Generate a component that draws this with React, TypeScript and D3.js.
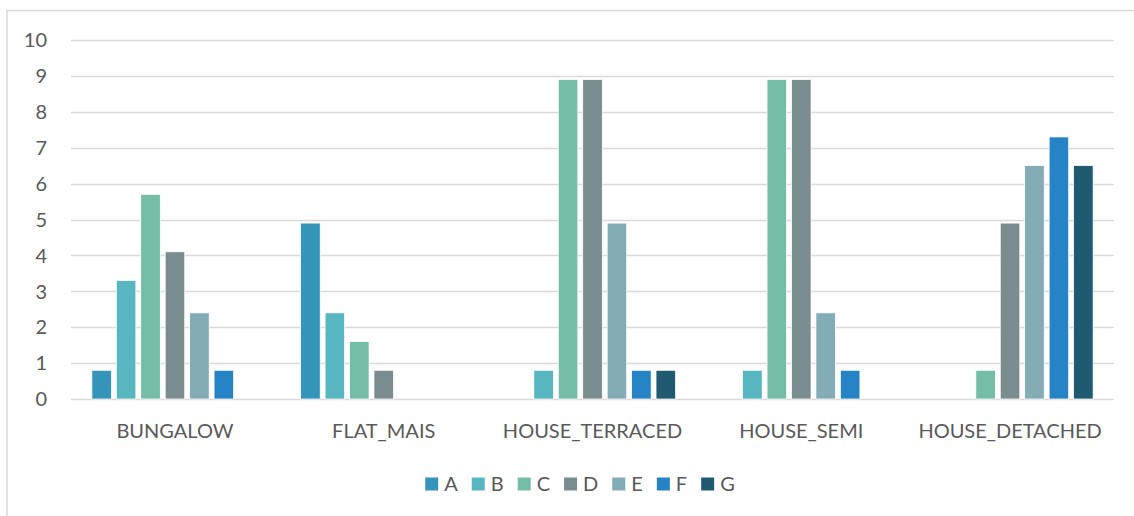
import React, { useEffect, useRef } from "react";
import * as d3 from "d3";

const categories = ["BUNGALOW", "FLAT_MAIS", "HOUSE_TERRACED", "HOUSE_SEMI", "HOUSE_DETACHED"];
const seriesNames = ["A", "B", "C", "D", "E", "F", "G"];
const seriesColors = ["#3494ba", "#58b6c0", "#75bda7", "#7a8c8e", "#84acb6", "#2683c6", "#1f5a70"];
// one array per series, one value per category
const valuesA = [0.8, 4.9, 0, 0, 0];
const valuesB = [3.3, 2.4, 0.8, 0.8, 0];
const valuesC = [5.7, 1.6, 8.9, 8.9, 0.8];
const valuesD = [4.1, 0.8, 8.9, 8.9, 4.9];
const valuesE = [2.4, 0, 4.9, 2.4, 6.5];
const valuesF = [0.8, 0, 0.8, 0.8, 7.3];
const valuesG = [0, 0, 0.8, 0, 6.5];
const yTicks = [0, 1, 2, 3, 4, 5, 6, 7, 8, 9, 10];

const W = 1134;
const H = 516;
const FONT = "Lato, 'Open Sans', sans-serif";
const TEXT = "#595959";

export default function App() {
  const ref = useRef<SVGSVGElement>(null);

  useEffect(() => {
    const svg = d3.select(ref.current);
    svg.selectAll("*").remove();
    const all = [valuesA, valuesB, valuesC, valuesD, valuesE, valuesF, valuesG];

    const m = { left: 71, right: 20, top: 40, bottom: 117 };
    const x0 = d3.scaleBand().domain(categories).range([m.left, W - m.right]).paddingInner(0.204).paddingOuter(0.1);
    const x1 = d3.scaleBand().domain(seriesNames).range([0, x0.bandwidth()]).paddingInner(0.2);
    const y = d3.scaleLinear().domain([0, 10]).range([H - m.bottom, m.top]);

    // chart frame (top and left edges)
    svg.append("rect").attr("width", W).attr("height", H).attr("fill", "#fff");
    svg.append("line").attr("x1", 6).attr("x2", W).attr("y1", 10.5).attr("y2", 10.5)
      .attr("stroke", "#d9d9d9").attr("stroke-width", 1.5);
    svg.append("line").attr("x1", 7).attr("x2", 7).attr("y1", 10).attr("y2", H)
      .attr("stroke", "#d9d9d9").attr("stroke-width", 1.5);

    // gridlines
    svg.append("g").selectAll("line").data(yTicks).join("line")
      .attr("x1", m.left).attr("x2", W - m.right)
      .attr("y1", (d) => Math.round(y(d)) + 0.5).attr("y2", (d) => Math.round(y(d)) + 0.5)
      .attr("stroke", "#d9d9d9").attr("stroke-width", 1.5);

    // y labels
    svg.append("g").selectAll("text").data(yTicks).join("text")
      .attr("x", 47).attr("y", (d) => y(d)).attr("dy", "0.36em")
      .attr("text-anchor", "end").attr("font-family", FONT).attr("font-size", 20).attr("fill", TEXT)
      .text((d) => d);

    // bars
    const rows = categories.map((c, ci) => ({ c, vals: all.map((s, si) => ({ s: seriesNames[si], v: s[ci], color: seriesColors[si] })) }));
    const g = svg.append("g").selectAll("g").data(rows).join("g")
      .attr("transform", (d) => `translate(${x0(d.c)},0)`);
    g.selectAll("rect").data((d) => d.vals.filter((v) => v.v > 0)).join("rect")
      .attr("x", (d) => x1(d.s)!).attr("width", x1.bandwidth())
      .attr("y", (d) => y(d.v)).attr("height", (d) => y(0) - y(d.v))
      .attr("fill", (d) => d.color).attr("stroke", "#ffffff").attr("stroke-width", 0.75);

    // category labels
    svg.append("g").selectAll("text").data(categories).join("text")
      .attr("x", (d) => x0(d)! + x0.bandwidth() / 2).attr("y", 431).attr("dy", "0.36em")
      .attr("text-anchor", "middle").attr("font-family", FONT).attr("font-size", 20).attr("fill", TEXT)
      .text((d) => d);

    // legend
    const leg = svg.append("g");
    const items = leg.selectAll("g").data(seriesNames).join("g");
    items.append("rect").attr("width", 13).attr("height", 13).attr("y", -6.5)
      .attr("fill", (_, i) => seriesColors[i]);
    items.append("text").attr("x", 19).attr("dy", "0.36em")
      .attr("font-family", FONT).attr("font-size", 20).attr("fill", TEXT).text((d) => d);
    const gap = 14;
    let cx = 0;
    items.each(function () {
      const t = d3.select(this).select("text").node() as SVGTextElement;
      const w = 19 + t.getComputedTextLength();
      d3.select(this).attr("transform", `translate(${cx},484)`);
      cx += w + gap;
    });
    const total = cx - gap;
    leg.attr("transform", `translate(${580 - total / 2},0)`);
  }, []);

  return (
    <svg
      ref={ref}
      width={W}
      height={H}
      style={{ display: "block", position: "absolute", left: 0, top: 0 }}
    />
  );
}
